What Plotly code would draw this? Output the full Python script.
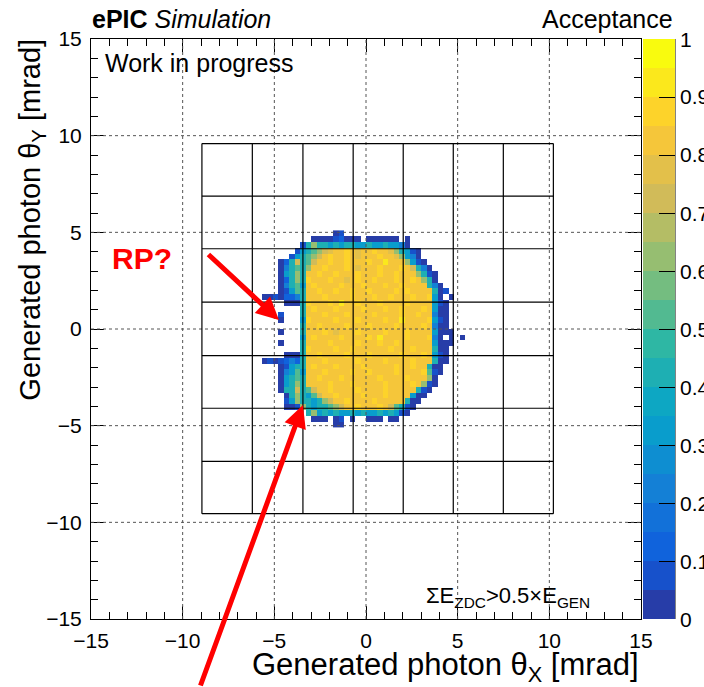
import numpy as np
import plotly.graph_objects as go

# ---------------- data ----------------
BIN_WIDTH = 0.3          # mrad, histogram binning
X_FIRST_EDGE = -6.0      # left edge of first column in the map
Y_TOP_EDGE = 5.1         # top edge of first row in the map

# acceptance map, top row first; each char = colour band (see BAND_OF_CHAR), '.' = empty
ACCEPTANCE_ROWS = [
    "..........|....01....|..........|........",
    "..........|000012000.|000000.0..|........",
    "........15|7554545544|54454430..|........",
    ".......145|678abbcbab|bcbba75410|........",
    "......1456|78bcbbcbab|bbcbba7430|........",
    "....025856|8bbcbbcbbb|cbbdbbb741|0.......",
    "....035657|bbcbbbcbab|bbcbbbcb85|30......",
    "....04575b|bcbbcbbbcb|bbcbbcbbb7|510.....",
    "....02575c|bbbcbbabcb|bcbbbcbbcb|750.....",
    "....03564b|cbbbbcbbbc|bbbcbbcbbb|b530....",
    "....01465b|bcbbcbbcbb|cbbbbcbcbb|bb501...",
    ".00102235b|bbcbbbbcbb|bcbbcbbbcb|bc40.0..",
    ".....0005c|bbbcbdbbcb|bbcbbbbcbb|bb410...",
    "........5b|cbbbcbbbbc|bbbcbbcbbb|cb400...",
    "....1...5b|bbcbbbcbbb|bcbbbbcbbc|bb300...",
    "....0...4c|bbbbcbbbcb|bbbcbbdbbb|bc410...",
    "........5b|bcbbbbcbbb|cbbbbcbbbb|cb300...",
    "....0...5b|bbcbabbbcb|bbbcbbbcbb|bb4000..",
    "........4b|cbbbbcbbbb|cbdbbbbcbb|bc30.0.0",
    "....0...5b|bbbcbbbbcb|bbcbbcbbbb|bb4000..",
    "........5c|bbbbcbbcbb|bbbbcbbbcb|bb500...",
    ".....0005b|bcbbbbcbbb|cbbbbbcbbb|cb410...",
    ".01012325b|bbcbbbbbcb|bbbcbbbbcb|bb500...",
    "....01455b|cbbbcbbbbc|bbbbbcbbcb|b500....",
    "....03464b|bbcbbbbcbb|cbbbbcbbbb|c610....",
    "....04565b|bcbbbcbbbb|bbcbbbbcbb|b70.....",
    "....04575b|bbbcbbbcbb|bbbcbbbbcb|710.....",
    "....055856|8bbcbbbbcb|bbbcbbbbb5|10......",
    ".....05754|68bbcbbbbc|bbbcbbbb40|0.......",
    ".....14755|4578bbcbbb|bcbbbbb500|........",
    ".....00175|455678bbcb|bbcb86510.|........",
    ".........5|7454544545|44545410..|........",
    "..........|000.01.0..|000.00....|........",
    "..........|....00....|..........|........",
]
BAND_OF_CHAR = {'0': 0, '1': 1, '2': 2, '3': 4, '4': 6, '5': 8, '6': 10, '7': 12,
                '8': 14, 'a': 15, 'b': 16, 'c': 17, 'd': 18, 'e': 19}
N_BANDS = 20

# ZDC tower grid (mrad)
ZDC_X_EDGES = [-8.95, -6.20, -3.44, -0.70, 2.03, 4.76, 7.49, 10.22]
ZDC_Y_EDGES = [-9.55, -6.85, -4.10, -1.38, 1.39, 4.15, 6.87, 9.59]

AXIS_TICKS = [-15, -10, -5, 0, 5, 10, 15]
GRID_LINES = [-10, -5, 0, 5, 10]
CB_TICKS = [0, 0.1, 0.2, 0.3, 0.4, 0.5, 0.6, 0.7, 0.8, 0.9, 1]
CB_LABELS = ["0", "0.1", "0.2", "0.3", "0.4", "0.5", "0.6", "0.7", "0.8", "0.9", "1"]

# ---------------- build matrix ----------------
rows = [r.replace("|", "") for r in ACCEPTANCE_ROWS]
ncols = len(rows[0])
for r in rows:
    assert len(r) == ncols, (r, len(r))
nrows = len(rows)
z = np.full((nrows, ncols), np.nan)
for i, r in enumerate(rows):
    for k, ch in enumerate(r):
        if ch != '.':
            z[i, k] = (BAND_OF_CHAR[ch] + 0.5) / N_BANDS
x_centers = X_FIRST_EDGE + BIN_WIDTH * (np.arange(ncols) + 0.5)
y_centers = Y_TOP_EDGE - BIN_WIDTH * (np.arange(nrows) + 0.5)

# ---------------- kBird palette, 20 contours ----------------
stops = [0.0, 0.125, 0.25, 0.375, 0.5, 0.625, 0.75, 0.875, 1.0]
red = [0.2082, 0.0592, 0.0780, 0.0232, 0.1802, 0.5301, 0.8186, 0.9956, 0.9764]
green = [0.1664, 0.3599, 0.5041, 0.6419, 0.7178, 0.7492, 0.7328, 0.7862, 0.9832]
blue = [0.5293, 0.8684, 0.8385, 0.7914, 0.6425, 0.4662, 0.3499, 0.1968, 0.0539]


def bird(t):
    r = np.interp(t, stops, red)
    g = np.interp(t, stops, green)
    b = np.interp(t, stops, blue)
    return "rgb(%d,%d,%d)" % (round(r * 255), round(g * 255), round(b * 255))


colorscale = []
for i in range(N_BANDS):
    idx = int((i + 0.99) * 255 / N_BANDS)
    c = bird(idx / 254)
    colorscale.append([i / N_BANDS, c])
    colorscale.append([(i + 1) / N_BANDS, c])

FONT = "Liberation Sans, Arial, Helvetica, sans-serif"

fig = go.Figure()
fig.add_trace(go.Heatmap(
    x=x_centers, y=y_centers, z=z, zmin=0, zmax=1,
    colorscale=colorscale, hoverongaps=False,
    colorbar=dict(
        x=1.0036, xanchor="left", y=0.5, yanchor="middle", len=1.0,
        thickness=32, thicknessmode="pixels", xpad=0, ypad=0,
        outlinewidth=0, tickvals=CB_TICKS, showticklabels=False,
        ticks="inside", ticklen=16, tickcolor="black", tickwidth=1,
    ),
))

shapes = []
# dotted grid
for g in GRID_LINES:
    shapes.append(dict(type="line", xref="x", yref="y", x0=g, x1=g, y0=-15, y1=15,
                       line=dict(color="#555", width=1, dash="dot")))
    shapes.append(dict(type="line", xref="x", yref="y", x0=-15, x1=15, y0=g, y1=g,
                       line=dict(color="#555", width=1, dash="dot")))
# ZDC grid
for xe in ZDC_X_EDGES:
    shapes.append(dict(type="line", xref="x", yref="y", x0=xe, x1=xe,
                       y0=ZDC_Y_EDGES[0], y1=ZDC_Y_EDGES[-1],
                       line=dict(color="black", width=1.2)))
for ye in ZDC_Y_EDGES:
    shapes.append(dict(type="line", xref="x", yref="y", x0=ZDC_X_EDGES[0], x1=ZDC_X_EDGES[-1],
                       y0=ye, y1=ye, line=dict(color="black", width=1.2)))
# colour-bar axis line
shapes.append(dict(type="line", xref="paper", yref="paper", x0=1.0618, x1=1.0618, y0=0, y1=1,
                   line=dict(color="black", width=1)))

axis_common = dict(
    range=[-15, 15], tickvals=AXIS_TICKS, ticks="inside", ticklen=13, tickwidth=1,
    tickcolor="black", showline=True, linecolor="black", linewidth=1, mirror="ticks",
    showgrid=False, zeroline=False,
    minor=dict(ticks="inside", ticklen=7, dtick=1, tickcolor="black", tickwidth=1, showgrid=False),
    tickfont=dict(family=FONT, size=21, color="black"),
)

fig.update_layout(
    width=704, height=687,
    margin=dict(l=91, r=63, t=39, b=68, autoexpand=False),
    paper_bgcolor="white", plot_bgcolor="white",
    xaxis=dict(**axis_common, ticklabelstandoff=3),
    yaxis=dict(**axis_common, ticklabelstandoff=4),
    shapes=shapes,
    showlegend=False,
)

ann = [
    dict(text="<b>ePIC</b> <i>Simulation</i>", x=-0.002, y=1.0345, xanchor="left", yanchor="middle",
         font=dict(family=FONT, size=25, color="black")),
    dict(text="Work in progress", x=0.021, y=0.9586, xanchor="left", yanchor="middle",
         font=dict(family=FONT, size=25, color="black")),
    dict(text="Acceptance", x=1.0618, y=1.0345, xanchor="right", yanchor="middle",
         font=dict(family=FONT, size=25, color="black")),
    dict(text="ΣE<sub>ZDC</sub>>0.5×E<sub>GEN</sub>", x=0.606, y=0.038, xanchor="left", yanchor="middle",
         font=dict(family=FONT, size=22, color="black")),
    dict(text="<b>RP?</b>", x=0.035, y=0.6224, xanchor="left", yanchor="middle",
         font=dict(family=FONT, size=30, color="#ff0000")),
    dict(text="Generated photon θ<sub>X</sub> [mrad]", x=1.0, y=-0.082, xanchor="right", yanchor="middle",
         font=dict(family=FONT, size=31, color="black")),
    dict(text="Generated photon θ<sub>Y</sub> [mrad]", x=-0.108, y=1.0034, xanchor="center", yanchor="top",
         textangle=-90, font=dict(family=FONT, size=29, color="black")),
]
# colour-bar labels (palette axis)
for v, lab in zip(CB_TICKS, CB_LABELS):
    ann.append(dict(text=lab, x=1.068, y=v, xanchor="left", yanchor="middle",
                    font=dict(family=FONT, size=21, color="black")))
for a in ann:
    a.update(xref="paper", yref="paper", showarrow=False)

arrows = [
    dict(x=-4.75, y=0.46, ax=-72, ay=-67),
    dict(x=-3.44, y=-3.93, ax=-103, ay=285),
]
for a in arrows:
    ann.append(dict(x=a["x"], y=a["y"], xref="x", yref="y", ax=a["ax"], ay=a["ay"],
                    axref="pixel", ayref="pixel", text="", showarrow=True,
                    arrowhead=2, arrowsize=0.9, arrowwidth=5, arrowcolor="#ff0000", standoff=0))
fig.update_layout(annotations=ann)

fig.write_html("out.html", config={"displayModeBar": False},
               post_script="document.body.style.margin='0';document.body.style.overflow='hidden';")
